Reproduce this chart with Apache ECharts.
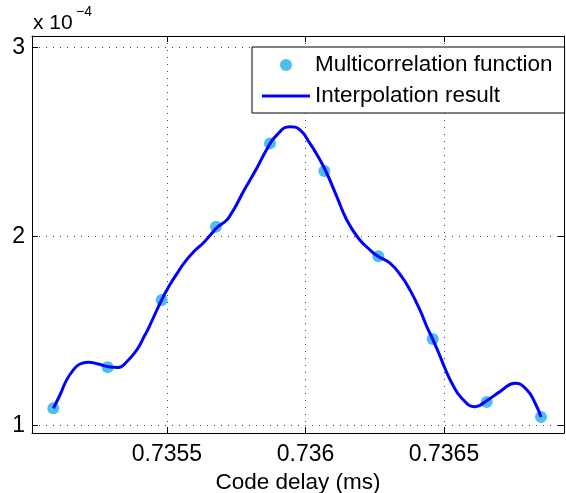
<!DOCTYPE html>
<html>
<head>
<meta charset="utf-8">
<script src="https://cdn.jsdelivr.net/npm/echarts@6/dist/echarts.min.js"></script>
<style>
    html, body { margin: 0; padding: 0; background: #fff; }
    #chart { width: 566px; height: 493px; }
</style>
</head>
<body>
<div id="chart"></div>
<script>
    // correlation values are in units of 1e-4 (see the "x 10^-4" note on the axis)
    var sampleDelay = [0.735090, 0.735286, 0.735481, 0.735677, 0.735872, 0.736068, 0.736263, 0.736459, 0.736654, 0.736850];
    var sampleCorr = [1.091, 1.308, 1.664, 2.051, 2.492, 2.346, 1.895, 1.457, 1.124, 1.045];

    var interpDelay = [
        0.735090, 0.735114, 0.735138, 0.735162, 0.735186, 0.735216, 0.735252, 0.735288, 0.735324, 0.735355,
        0.735391, 0.735421, 0.735432, 0.735481, 0.735511, 0.735535, 0.735565, 0.735601, 0.735631, 0.735667,
        0.735679, 0.735716, 0.735734, 0.735752, 0.735775, 0.735824, 0.735860, 0.735896, 0.735944, 0.735980,
        0.736016, 0.736046, 0.736077, 0.736113, 0.736149, 0.736191, 0.736233, 0.736263, 0.736305, 0.736347,
        0.736377, 0.736413, 0.736438, 0.736459, 0.736479, 0.736504, 0.736528, 0.736564, 0.736612, 0.736654,
        0.736702, 0.736756, 0.736799, 0.736829, 0.736850
    ];
    var interpCorr = [
        1.091, 1.161, 1.241, 1.293, 1.325, 1.334, 1.325, 1.311, 1.307, 1.337,
        1.399, 1.480, 1.510, 1.664, 1.745, 1.800, 1.865, 1.925, 1.965, 2.025,
        2.045, 2.087, 2.125, 2.170, 2.235, 2.360, 2.460, 2.536, 2.580, 2.563,
        2.492, 2.421, 2.334, 2.210, 2.087, 1.990, 1.928, 1.893, 1.858, 1.787,
        1.717, 1.611, 1.522, 1.457, 1.390, 1.300, 1.225, 1.144, 1.099, 1.131,
        1.179, 1.223, 1.188, 1.117, 1.045
    ];

    var seriesNames = ['Multicorrelation function', 'Interpolation result'];
    var xTickLabels = ['0.7355', '0.736', '0.7365'];
    var yTickLabels = ['1', '2', '3'];

    var FONT = 'Liberation Sans, Arial, Helvetica, sans-serif';
    var X_MIN = 0.735013, X_MAX = 0.736933;
    var Y_MIN = 0.96, Y_MAX = 3.06;

    function pairs(xs, ys) {
        var out = [];
        for (var i = 0; i < xs.length; i++) out.push([xs[i], ys[i]]);
        return out;
    }

    function tickLabel(list) {
        return function (v) {
            for (var i = 0; i < list.length; i++) {
                if (Math.abs(parseFloat(list[i]) - v) < 1e-9) return list[i];
            }
            return '';
        };
    }

    var dotted = { color: '#444', width: 1, type: [1, 6] };
    var boxLine = { show: true, onZero: false, lineStyle: { color: '#000', width: 1 } };
    var inTick = { show: true, inside: true, length: 6, lineStyle: { color: '#000' } };

    var chart = echarts.init(document.getElementById('chart'));
    chart.setOption({
        animation: false,
        backgroundColor: '#fff',
        grid: { left: 32, right: 2, top: 36, bottom: 60, containLabel: false, outerBoundsMode: 'none' },
        graphic: [
            { type: 'text', left: 33, top: 13, style: { text: 'x 10', font: '21px ' + FONT, fill: '#000' } },
            { type: 'text', left: 76, top: 5, style: { text: '\u22124', font: '14px ' + FONT, fill: '#000' } }
        ],
        legend: {
            left: 252,
            top: 47,
            orient: 'vertical',
            data: [
                { name: seriesNames[0], icon: 'circle' },
                { name: seriesNames[1], icon: 'path://M0,0L48,0L48,3L0,3Z' }
            ],
            itemWidth: 48,
            itemHeight: 12,
            itemGap: 7,
            padding: [6, 12, 5, 10],
            borderColor: '#000',
            borderWidth: 1,
            borderRadius: 0,
            backgroundColor: '#fff',
            textStyle: { fontFamily: FONT, fontSize: 22.5, color: '#000', lineHeight: 24 }
        },
        xAxis: [
            {
                type: 'value',
                min: X_MIN,
                max: X_MAX,
                splitNumber: 4,
                name: 'Code delay (ms)',
                nameLocation: 'middle',
                nameGap: 31,
                nameTextStyle: { fontFamily: FONT, fontSize: 22.5, color: '#000' },
                axisLine: boxLine,
                axisTick: inTick,
                axisLabel: {
                    margin: 10, fontFamily: FONT, fontSize: 23, color: '#000',
                    showMinLabel: false, showMaxLabel: false,
                    formatter: tickLabel(xTickLabels)
                },
                splitLine: { show: true, lineStyle: dotted }
            },
            {
                type: 'value',
                position: 'top',
                min: X_MIN,
                max: X_MAX,
                splitNumber: 4,
                axisLine: boxLine,
                axisTick: inTick,
                axisLabel: { show: false },
                splitLine: { show: false }
            }
        ],
        yAxis: [
            {
                type: 'value',
                min: Y_MIN,
                max: Y_MAX,
                splitNumber: 2,
                axisLine: boxLine,
                axisTick: inTick,
                axisLabel: {
                    margin: 7, fontFamily: FONT, fontSize: 23, color: '#000',
                    showMinLabel: false, showMaxLabel: false,
                    formatter: tickLabel(yTickLabels)
                },
                splitLine: { show: true, lineStyle: dotted }
            },
            {
                type: 'value',
                position: 'right',
                min: Y_MIN,
                max: Y_MAX,
                splitNumber: 2,
                axisLine: boxLine,
                axisTick: inTick,
                axisLabel: { show: false },
                splitLine: { show: false }
            }
        ],
        series: [
            {
                name: seriesNames[0],
                type: 'scatter',
                data: pairs(sampleDelay, sampleCorr),
                symbol: 'circle',
                symbolSize: 12,
                itemStyle: { color: '#4DBEEE', opacity: 1 },
                z: 2
            },
            {
                name: seriesNames[1],
                type: 'line',
                data: pairs(interpDelay, interpCorr),
                symbol: 'none',
                smooth: 0.5,
                lineStyle: { color: '#0000FF', width: 3 },
                itemStyle: { color: '#0000FF' },
                z: 3
            }
        ]
    });
</script>
</body>
</html>
